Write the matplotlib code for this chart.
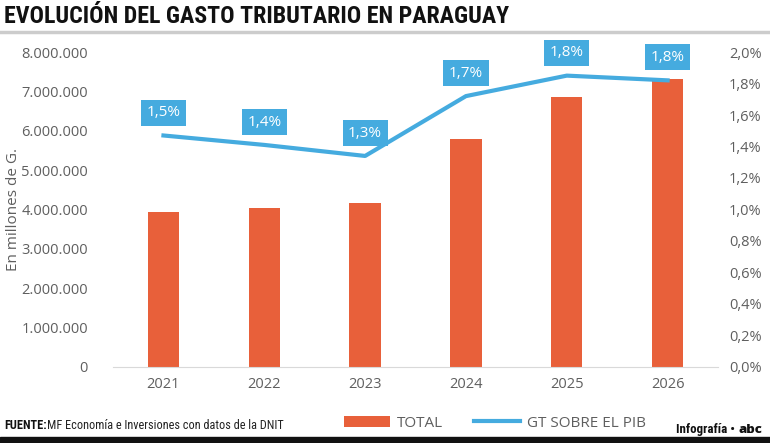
import numpy as np
import matplotlib
matplotlib.use("Agg")
import matplotlib.pyplot as plt
from matplotlib.ticker import FuncFormatter

# Datos
anios = ["2021", "2022", "2023", "2024", "2025", "2026"]
total = [3930000, 4040000, 4160000, 5790000, 6850000, 7310000]   # millones de G.
gt_pib = [1.47, 1.41, 1.34, 1.72, 1.85, 1.82]                    # % del PIB
etiquetas = ["1,5%", "1,4%", "1,3%", "1,7%", "1,8%", "1,8%"]

naranja = "#E8603A"
azul = "#45ABDF"
gris = "#5f5f5f"
fuente = ["Open Sans", "DejaVu Sans"]
estrecha = ["Roboto Condensed", "DejaVu Sans"]

plt.rcParams["font.family"] = fuente

fig = plt.figure(figsize=(7.7, 4.43), dpi=100)
ax = fig.add_axes([0.1468, 0.1716, 0.7857, 0.711])
ax2 = ax.twinx()

x = np.arange(len(anios))
barras = ax.bar(x, total, width=0.31, color=naranja, label="TOTAL", zorder=2)
linea, = ax2.plot(x, gt_pib, color=azul, lw=3, label="GT SOBRE EL PIB", zorder=3)

# etiquetas en recuadro azul sobre cada punto
for xi, yi, txt in zip(x, gt_pib, etiquetas):
    ax2.annotate(txt, (xi, yi), xytext=(0, 16.5), textcoords="offset points",
                 ha="center", va="center", color="white", fontsize=11,
                 bbox=dict(boxstyle="square,pad=0.36", fc=azul, ec="none"))

ax.set_xlim(-0.5, 5.5)
ax.set_ylim(0, 8000000)
ax2.set_ylim(0, 2.0)
ax.set_yticks(np.arange(0, 8000001, 1000000))
ax2.set_yticks(np.arange(0, 2.01, 0.2))
ax.yaxis.set_major_formatter(FuncFormatter(lambda v, p: f"{int(v):,}".replace(",", ".")))
ax2.yaxis.set_major_formatter(FuncFormatter(lambda v, p: f"{v:.1f}%".replace(".", ",")))
ax.set_xticks(x)
ax.set_xticklabels(anios)

for a in (ax, ax2):
    for s in a.spines.values():
        s.set_visible(False)
    a.tick_params(length=0, colors=gris, labelsize=10.5)
ax.spines["bottom"].set_visible(True)
ax.spines["bottom"].set_color("#d9d9d9")
ax.tick_params(axis="y", pad=18)
ax.tick_params(axis="x", pad=7)
ax2.tick_params(axis="y", pad=8)

ax.set_ylabel("En millones de G.", color=gris, fontsize=11)
ax.yaxis.set_label_coords(-0.152, 0.5)

# Título y línea gris
fig.text(0.005, 0.963, "EVOLUCIÓN DEL GASTO TRIBUTARIO EN PARAGUAY", family=estrecha,
         fontweight="bold", fontsize=17.2, va="center", ha="left", color="#111111")
fig.add_artist(plt.Line2D([0, 1], [0.927, 0.927], transform=fig.transFigure,
                          color="#cccccc", lw=2.5))

# Pie
r = fig.canvas.get_renderer()
t1 = fig.text(0.006, 0.04, "FUENTE:", family=estrecha, fontweight="bold", fontsize=8.8,
              va="center", color="#111111")
x1 = t1.get_window_extent(r).x1 / fig.bbox.width
fig.text(x1, 0.04, "MF Economía e Inversiones con datos de la DNIT", family=estrecha,
         fontsize=8.8, va="center", color="#222222")
t2 = fig.text(0.878, 0.03, "Infografía •", family=estrecha, fontweight="bold", fontsize=9.3,
              va="center", color="#111111")
x2 = t2.get_window_extent(r).x1 / fig.bbox.width
fig.text(x2 + 0.004, 0.03, "abc", family=fuente, fontweight="heavy", fontsize=9.5,
         va="center", color="#111111")
fig.add_artist(plt.Rectangle((0, 0), 1, 0.014, transform=fig.transFigure,
                             color="#111111"))

leg = fig.legend(handles=[barras, linea], loc="center", bbox_to_anchor=(0.643, 0.045),
                 ncol=2, frameon=False, fontsize=11, handlelength=3.0,
                 columnspacing=2.0, handletextpad=0.5)
for txt in leg.get_texts():
    txt.set_color(gris)

fig.savefig("out.png", dpi=100)
